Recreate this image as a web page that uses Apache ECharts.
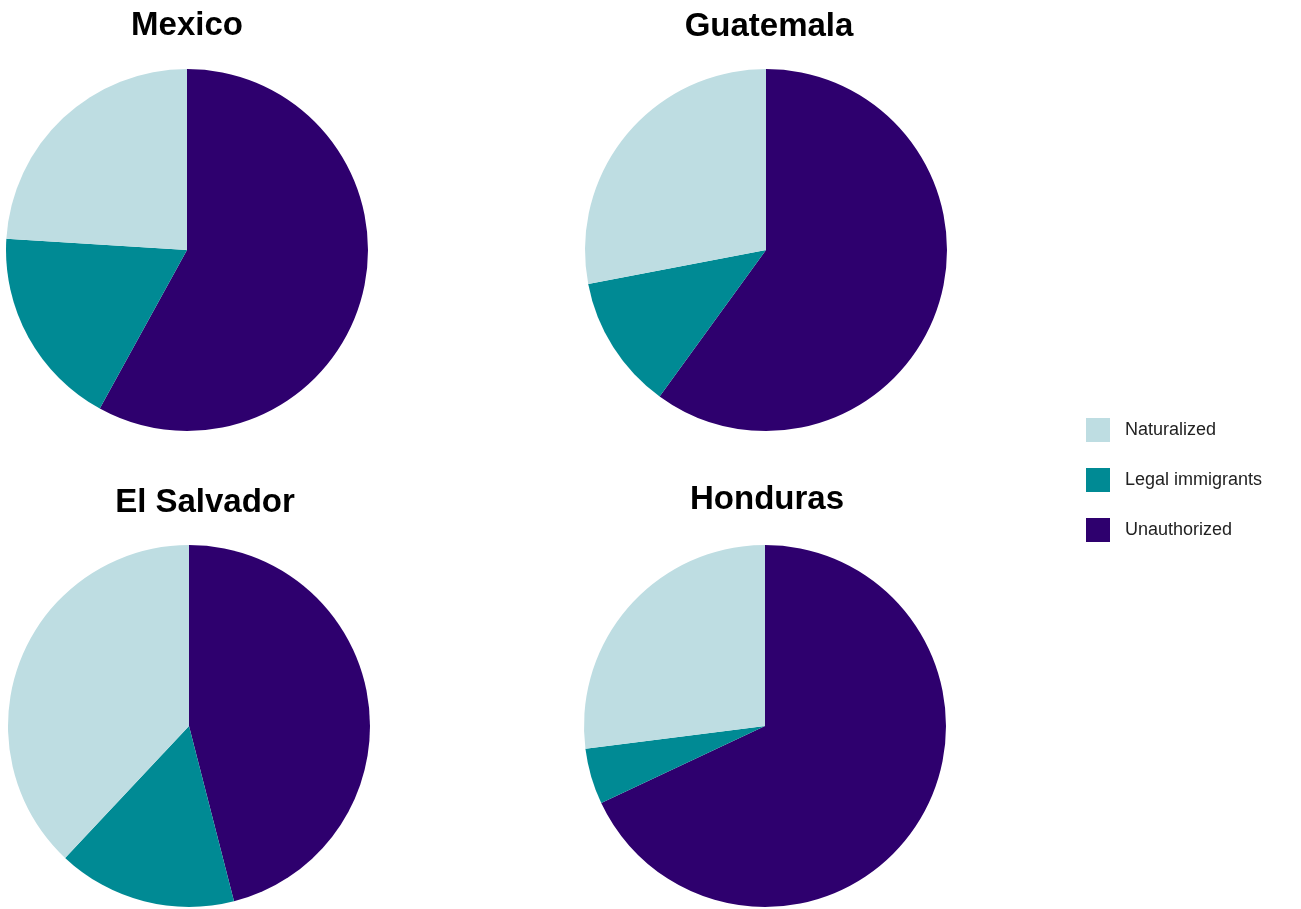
<!DOCTYPE html>
<html>
<head>
<meta charset="utf-8">
<script src="https://cdn.jsdelivr.net/npm/echarts@6/dist/echarts.min.js"></script>
<style>
html,body{margin:0;padding:0;background:#fff;}
#chart{width:1301px;height:909px;}
</style>
</head>
<body>
<div id="chart"></div>
<script>
// Data (percent shares)
const countries = ["Mexico", "Guatemala", "El Salvador", "Honduras"];
const categories = ["Unauthorized", "Legal immigrants", "Naturalized"];
const legendOrder = ["Naturalized", "Legal immigrants", "Unauthorized"];
const unauthorized = [58, 60, 46, 68];
const legalImmigrants = [18, 12, 16, 5];
const naturalized = [24, 28, 38, 27];

const colors = {"Unauthorized": "#2e006e", "Legal immigrants": "#008a94", "Naturalized": "#bedde2"};
const centers = [[187, 250], [766, 250], [189, 726], [765, 726]];
const titlePos = [[187, 9], [769, 10], [205, 486], [767, 483]];
const radius = 181;

const chart = echarts.init(document.getElementById('chart'), null, {renderer: 'canvas'});

const series = countries.map((c, i) => ({
  type: 'pie',
  name: c,
  center: centers[i],
  radius: radius,
  startAngle: 90,
  clockwise: true,
  label: {show: false},
  labelLine: {show: false},
  emphasis: {disabled: true},
  animation: false,
  itemStyle: {borderWidth: 0},
  data: [
    {name: categories[0], value: unauthorized[i], itemStyle: {color: colors[categories[0]]}},
    {name: categories[1], value: legalImmigrants[i], itemStyle: {color: colors[categories[1]]}},
    {name: categories[2], value: naturalized[i], itemStyle: {color: colors[categories[2]]}}
  ]
}));

const titles = countries.map((c, i) => ({
  text: c,
  left: titlePos[i][0],
  top: titlePos[i][1],
  padding: 0,
  textAlign: 'center',
  textStyle: {fontFamily: 'Liberation Sans, Arial, sans-serif', fontWeight: 'bold', fontSize: 33, color: '#000'}
}));

chart.setOption({
  backgroundColor: '#ffffff',
  animation: false,
  title: titles,
  legend: {
    orient: 'vertical',
    left: 1081,
    top: 413,
    itemWidth: 24,
    itemHeight: 24,
    itemGap: 26,
    icon: 'rect',
    selectedMode: false,
    data: legendOrder,
    textStyle: {fontFamily: 'Liberation Sans, Arial, sans-serif', fontSize: 18, color: '#222', padding: [0, 0, 0, 10]}
  },
  series: series
});
</script>
</body>
</html>
